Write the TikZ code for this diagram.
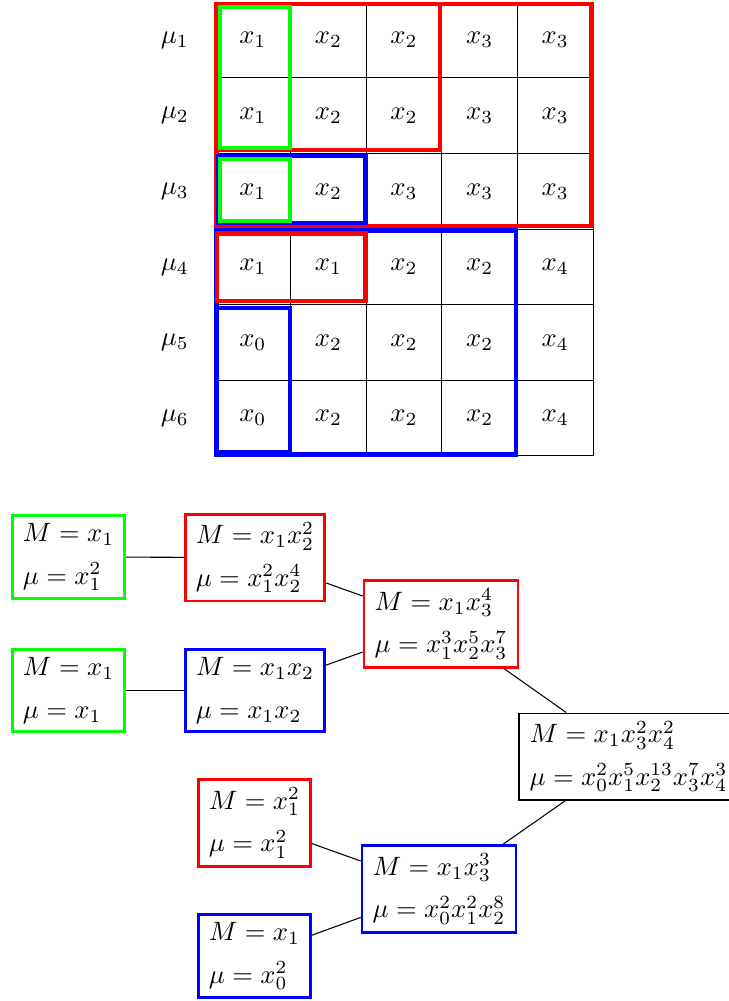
\documentclass[tikz,border=0pt]{standalone}
\usepackage{amsmath}
\usepackage{xcolor}
\usepackage{tikz}
\usetikzlibrary{positioning,calc}

\begin{document}
\begin{tikzpicture}[
   cell/.style={draw,minimum size=1cm,inner sep=0pt},
   hl/.style={line width=1.6pt},
   tb/.style={draw,line width=1pt,align=left,inner xsep=4pt,inner ysep=3pt}]
  \useasboundingbox (-2.844,0.03) rectangle (6.786,-13.21);
  % grid of monomials
  \foreach \r/\row in {1/{1,2,2,3,3},2/{1,2,2,3,3},3/{1,2,3,3,3},
                       4/{1,1,2,2,4},5/{0,2,2,2,4},6/{0,2,2,2,4}}{
    \node (mu-\r) at (-0.53,0.5-\r) {$\mu_{\r}$};
    \foreach \v [count=\c] in \row
      \node[cell] (c-\r-\c) at (\c-0.5,0.5-\r) {$x_{\v}$};
  }
  % highlighted blocks
  \draw[hl,red]   (0.02,-0.02) rectangle (4.98,-2.96);
  \draw[hl,red]   (0.02,-0.02) rectangle (2.98,-1.95);
  \draw[hl,green] (0.07,-0.06) rectangle (0.99,-1.93);
  \draw[hl,blue]  (0.04,-2.03) rectangle (1.99,-2.92);
  \draw[hl,green] (0.07,-2.07) rectangle (0.99,-2.89);
  \draw[hl,blue]  (0.02,-3.02) rectangle (3.98,-5.98);
  \draw[hl,red]   (0.03,-3.06) rectangle (1.99,-3.95);
  \draw[hl,blue]  (0.03,-4.04) rectangle (0.99,-5.95);

  % tree
  \node[tb,draw=green] (A) at (-1.937,-7.337) {$M=x_1$\\[4pt]$\mu=x_1^2$};
  \node[tb,draw=red]   (B) at (0.529,-7.344) {$M=x_1x_2^2$\\[4pt]$\mu=x_1^2x_2^4$};
  \node[tb,draw=green] (C) at (-1.937,-9.103) {$M=x_1$\\[4pt]$\mu=x_1$};
  \node[tb,draw=blue]  (D) at (0.529,-9.103) {$M=x_1x_2$\\[4pt]$\mu=x_1x_2$};
  \node[tb,draw=red]   (E) at (2.989,-8.224) {$M=x_1x_3^4$\\[4pt]$\mu=x_1^3x_2^5x_3^7$};
  \node[tb,draw=black,line width=0.5pt,anchor=west] (F) at (4.012,-9.976)
       {$M=x_1x_3^2x_4^2$\\[4pt]$\mu=x_0^2x_1^5x_2^{13}x_3^7x_4^3$};
  \node[tb,draw=red]   (G) at (0.522,-10.856) {$M=x_1^2$\\[4pt]$\mu=x_1^2$};
  \node[tb,draw=blue]  (H) at (0.522,-12.615) {$M=x_1$\\[4pt]$\mu=x_0^2$};
  \node[tb,draw=blue]  (I) at (2.963,-11.729) {$M=x_1x_3^3$\\[4pt]$\mu=x_0^2x_1^2x_2^8$};
  \draw (A) -- (B);
  \draw (C) -- (D);
  \draw (B) -- (E);
  \draw (D) -- (E);
  \draw (E) -- (F);
  \draw (G) -- (I);
  \draw (H) -- (I);
  \draw (I) -- (F);
\end{tikzpicture}
\end{document}
